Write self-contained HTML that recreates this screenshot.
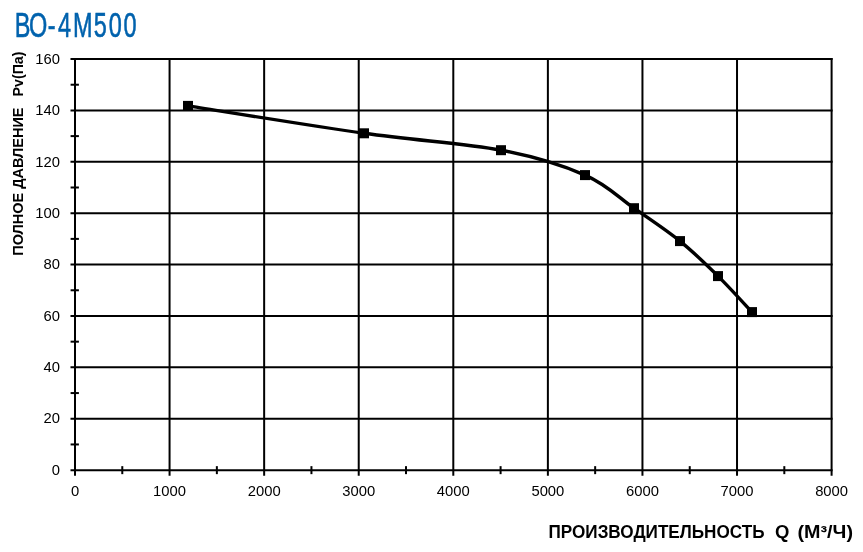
<!DOCTYPE html>
<html><head><meta charset="utf-8"><style>
html,body{margin:0;padding:0;background:#fff;}
body{width:863px;height:552px;overflow:hidden;}
svg{display:block;}
.t{font-family:"Liberation Sans",Arial,sans-serif;}
</style></head><body>
<svg width="863" height="552" viewBox="0 0 863 552">
<text class="t" x="22.42 44.02 72.50 87.80 110.68 141.97 164.62 186.97" y="36.8" font-size="35.6" fill="#0062ad" stroke="#0062ad" stroke-width="0.6" transform="scale(0.66 1)">BO-4M500</text>
<g stroke="#000" stroke-width="2.0" fill="none">
<line x1="75.00" y1="58.03" x2="75.00" y2="475.65"/>
<line x1="169.57" y1="58.03" x2="169.57" y2="475.65"/>
<line x1="264.15" y1="58.03" x2="264.15" y2="475.65"/>
<line x1="358.73" y1="58.03" x2="358.73" y2="475.65"/>
<line x1="453.30" y1="58.03" x2="453.30" y2="475.65"/>
<line x1="547.88" y1="58.03" x2="547.88" y2="475.65"/>
<line x1="642.45" y1="58.03" x2="642.45" y2="475.65"/>
<line x1="737.02" y1="58.03" x2="737.02" y2="475.65"/>
<line x1="831.60" y1="58.03" x2="831.60" y2="475.65"/>
<line x1="70.50" y1="470.15" x2="832.60" y2="470.15"/>
<line x1="70.50" y1="418.76" x2="832.60" y2="418.76"/>
<line x1="70.50" y1="367.37" x2="832.60" y2="367.37"/>
<line x1="70.50" y1="315.98" x2="832.60" y2="315.98"/>
<line x1="70.50" y1="264.59" x2="832.60" y2="264.59"/>
<line x1="70.50" y1="213.20" x2="832.60" y2="213.20"/>
<line x1="70.50" y1="161.81" x2="832.60" y2="161.81"/>
<line x1="70.50" y1="110.42" x2="832.60" y2="110.42"/>
<line x1="70.50" y1="59.03" x2="832.60" y2="59.03"/>
<line x1="122.29" y1="466.15" x2="122.29" y2="474.15"/>
<line x1="216.86" y1="466.15" x2="216.86" y2="474.15"/>
<line x1="311.44" y1="466.15" x2="311.44" y2="474.15"/>
<line x1="406.01" y1="466.15" x2="406.01" y2="474.15"/>
<line x1="500.59" y1="466.15" x2="500.59" y2="474.15"/>
<line x1="595.16" y1="466.15" x2="595.16" y2="474.15"/>
<line x1="689.74" y1="466.15" x2="689.74" y2="474.15"/>
<line x1="784.31" y1="466.15" x2="784.31" y2="474.15"/>
<line x1="70.60" y1="444.45" x2="78.90" y2="444.45"/>
<line x1="70.60" y1="393.06" x2="78.90" y2="393.06"/>
<line x1="70.60" y1="341.67" x2="78.90" y2="341.67"/>
<line x1="70.60" y1="290.28" x2="78.90" y2="290.28"/>
<line x1="70.60" y1="238.89" x2="78.90" y2="238.89"/>
<line x1="70.60" y1="187.50" x2="78.90" y2="187.50"/>
<line x1="70.60" y1="136.11" x2="78.90" y2="136.11"/>
<line x1="70.60" y1="84.72" x2="78.90" y2="84.72"/>
</g>
<path d="M188.00 105.90 C217.33 110.47 311.83 125.92 364.00 133.30 C416.17 140.68 464.17 143.23 501.00 150.20 C537.83 157.17 562.83 165.43 585.00 175.10 C607.17 184.77 618.17 197.20 634.00 208.20 C649.83 219.20 666.00 229.78 680.00 241.10 C694.00 252.42 706.00 264.27 718.00 276.10 C730.00 287.93 746.33 306.10 752.00 312.10" stroke="#000" stroke-width="3.4" fill="none" stroke-linejoin="round"/>
<g fill="#000"><rect x="183.00" y="100.90" width="10" height="10"/><rect x="359.00" y="128.30" width="10" height="10"/><rect x="496.00" y="145.20" width="10" height="10"/><rect x="580.00" y="170.10" width="10" height="10"/><rect x="629.00" y="203.20" width="10" height="10"/><rect x="675.00" y="236.10" width="10" height="10"/><rect x="713.00" y="271.10" width="10" height="10"/><rect x="747.00" y="307.10" width="10" height="10"/></g>
<g class="t" font-size="14.8" fill="#000">
<text x="75.00" y="495.6" text-anchor="middle">0</text>
<text x="169.57" y="495.6" text-anchor="middle">1000</text>
<text x="264.15" y="495.6" text-anchor="middle">2000</text>
<text x="358.73" y="495.6" text-anchor="middle">3000</text>
<text x="453.30" y="495.6" text-anchor="middle">4000</text>
<text x="547.88" y="495.6" text-anchor="middle">5000</text>
<text x="642.45" y="495.6" text-anchor="middle">6000</text>
<text x="737.02" y="495.6" text-anchor="middle">7000</text>
<text x="831.60" y="495.6" text-anchor="middle">8000</text>
<text x="60" y="474.85" text-anchor="end">0</text>
<text x="60" y="423.46" text-anchor="end">20</text>
<text x="60" y="372.07" text-anchor="end">40</text>
<text x="60" y="320.68" text-anchor="end">60</text>
<text x="60" y="269.29" text-anchor="end">80</text>
<text x="60" y="217.90" text-anchor="end">100</text>
<text x="60" y="166.51" text-anchor="end">120</text>
<text x="60" y="115.12" text-anchor="end">140</text>
<text x="60" y="63.73" text-anchor="end">160</text>
</g>
<text class="t" font-weight="bold" font-size="17.5" y="537.6" fill="#000"><tspan id="xa" x="548.5" textLength="216" lengthAdjust="spacingAndGlyphs">ПРОИЗВОДИТЕЛЬНОСТЬ</tspan> <tspan id="xq" x="775" textLength="14.4" lengthAdjust="spacingAndGlyphs">Q</tspan> <tspan id="xp" x="797.5" textLength="55.5" lengthAdjust="spacingAndGlyphs">(М³/Ч)</tspan></text>
<text class="t" font-weight="bold" font-size="14.6" fill="#000" transform="translate(23.2 0) rotate(-90)" y="0"><tspan id="ya" x="-255.8" textLength="148.3" lengthAdjust="spacingAndGlyphs">ПОЛНОЕ ДАВЛЕНИЕ</tspan> <tspan id="yb" x="-96.5" textLength="45" lengthAdjust="spacingAndGlyphs">Pv(Па)</tspan></text>
</svg>
</body></html>
